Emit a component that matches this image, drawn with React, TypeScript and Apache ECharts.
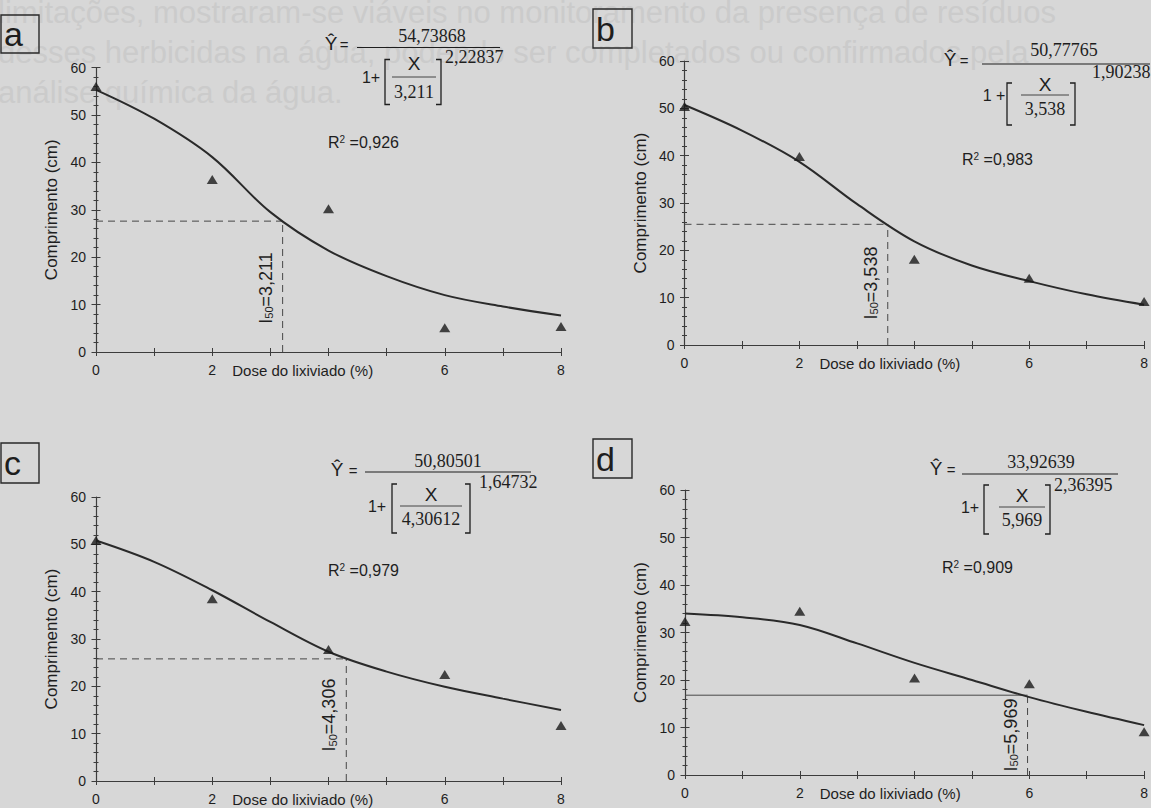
import React, { useEffect, useRef } from "react";
import * as echarts from "echarts";

// Leachate doses (%) at which root length was measured
const doses = [0, 2, 4, 6, 8];
// Doses along which each fitted log-logistic curve is traced
const fitDoses = [0, 1, 2, 3, 4, 5, 6, 7, 8];

// Observed lengths (cm)
const observedA = [56.0, 36.4, 30.2, 5.1, 5.4];
const observedB = [50.4, 39.8, 18.1, 14.1, 9.2];
const observedC = [50.8, 38.5, 27.8, 22.5, 11.7];
const observedD = [32.3, 34.5, 20.4, 19.2, 9.1];

// Fitted curves (cm)
const fittedA = [55.3, 49.2, 41.1, 29.5, 21.4, 16.0, 12.0, 9.6, 7.7];
const fittedB = [50.7, 45.3, 38.7, 29.8, 21.9, 16.8, 13.5, 10.7, 8.5];
const fittedC = [50.8, 46.3, 40.3, 33.6, 27.3, 23.1, 19.9, 17.4, 15.0];
const fittedD = [34.0, 33.2, 31.6, 27.7, 23.6, 20.0, 16.4, 13.3, 10.5];

// I50 doses and the matching length level of the guide lines
const i50Values = [3.211, 3.538, 4.306, 5.969];
const i50Labels = ["3,211", "3,538", "4,306", "5,969"];
const guideLevels = [27.6, 25.5, 25.8, 16.8];

// Equation and fit-quality texts
const panelLetters = ["a", "b", "c", "d"];
const eqNumerators = ["54,73868", "50,77765", "50,80501", "33,92639"];
const eqScales = ["3,211", "3,538", "4,30612", "5,969"];
const eqExponents = ["2,22837", "1,90238", "1,64732", "2,36395"];
const r2Labels = ["0,926", "0,983", "0,979", "0,909"];

// Axis ticks
const xLabelled = [0, 2, 6, 8];
const yMin = 0;
const yMax = 60;
const yStep = 10;
const xMin = 0;
const xMax = 8;
const xStep = 1;

const observedSets = [observedA, observedB, observedC, observedD];
const fittedSets = [fittedA, fittedB, fittedC, fittedD];

const ghostLines = [
  "limitações, mostraram-se viáveis no monitoramento da presença de resíduos",
  "desses herbicidas na água, podendo ser completados ou confirmados pela",
  "análise química da água.",
];

// ---- layout & style ----
const SANS = "Liberation Sans, Arial, sans-serif";
const SERIF = "Liberation Serif, Times New Roman, serif";
const INK = "#1e1e1e";
const AXIS = "#3c3c3c";
const PAPER = "#d7d7d7";

const gridBoxes = [
  { left: 96, top: 67.5, width: 465, height: 284.5 },
  { left: 684.5, top: 61, width: 465, height: 284 },
  { left: 96, top: 497, width: 465, height: 284 },
  { left: 685, top: 490, width: 465, height: 285 },
];

const letterBoxes = [
  { x: 1, y: 15, w: 38, h: 38 },
  { x: 593, y: 9, w: 39, h: 39 },
  { x: 1, y: 443, w: 38, h: 40 },
  { x: 593, y: 439, w: 39, h: 39 },
];

const r2Positions = [
  [328, 142],
  [962, 159],
  [328, 570],
  [942, 567],
];

// pixels above the x axis for the centre of each rotated I50 label
const i50LabelRise = [64, 62, 66, 40];

const equationLayouts = [
  { lx: 357, ly: 47.5, w: 143, hatDx: -26, hatDy: -4, eqDx: -13, numDx: 75, numDy: -12, oneDx: 14, bl: 28, br: 84, brTop: 12, brBot: 57, xDx: 57, xDy: 16, innerHalf: 22, innerDy: 29.5, denDy: 44, expDx: 88, expDy: 9, onePlus: "1+" },
  { lx: 982, ly: 64, w: 168, hatDx: -32, hatDy: -5, eqDx: -18, numDx: 82, numDy: -14, oneDx: 12, bl: 25, br: 93, brTop: 19, brBot: 61, xDx: 63, xDy: 20, innerHalf: 24, innerDy: 31, denDy: 45, expDx: 110, expDy: 8, onePlus: "1 +" },
  { lx: 365, ly: 472, w: 166, hatDx: -28, hatDy: -3, eqDx: -12, numDx: 83, numDy: -11, oneDx: 12, bl: 27, br: 105, brTop: 12, brBot: 61, xDx: 66, xDy: 22, innerHalf: 31, innerDy: 34, denDy: 47, expDx: 114, expDy: 10, onePlus: "1+" },
  { lx: 962, ly: 474, w: 156, hatDx: -26, hatDy: -6, eqDx: -11, numDx: 79, numDy: -12, oneDx: 8, bl: 22, br: 88, brTop: 11, brBot: 60, xDx: 60, xDy: 21, innerHalf: 23, innerDy: 33, denDy: 46, expDx: 92, expDy: 11, onePlus: "1+" },
];

function txt(x: number, y: number, text: string, family: string, size: number, align: string, extra: any = {}) {
  return {
    type: "text",
    x,
    y,
    silent: true,
    ...extra,
    style: {
      text,
      fontFamily: family,
      fontSize: size,
      fill: INK,
      align,
      verticalAlign: "middle",
      textAlign: align,
      textVerticalAlign: "middle",
      ...(extra.style || {}),
    },
  };
}

function hline(x1: number, x2: number, y: number, w = 1) {
  return { type: "line", silent: true, shape: { x1, y1: y, x2, y2: y }, style: { stroke: INK, lineWidth: w } };
}

function bracket(x: number, top: number, bot: number, dir: number) {
  return {
    type: "polyline",
    silent: true,
    shape: { points: [[x + 5 * dir, top], [x, top], [x, bot], [x + 5 * dir, bot]] },
    style: { stroke: INK, lineWidth: 1.3, fill: null },
  };
}

function equationElements(k: number) {
  const L = equationLayouts[k];
  const { lx, ly } = L;
  return [
    txt(lx + L.hatDx, ly + L.hatDy, "Ŷ", SANS, 19, "center"),
    txt(lx + L.eqDx, ly + L.hatDy + 1, "=", SANS, 15, "center"),
    hline(lx, lx + L.w, ly, 1.1),
    txt(lx + L.numDx, ly + L.numDy, eqNumerators[k], SERIF, 18, "center"),
    txt(lx + L.oneDx, ly + L.innerDy, L.onePlus, SANS, 16, "center"),
    bracket(lx + L.bl, ly + L.brTop, ly + L.brBot, 1),
    txt(lx + L.xDx, ly + L.xDy, "X", SANS, 19, "center"),
    hline(lx + L.xDx - L.innerHalf, lx + L.xDx + L.innerHalf, ly + L.innerDy, 0.8),
    txt(lx + L.xDx, ly + L.denDy, eqScales[k], SERIF, 18, "center"),
    bracket(lx + L.br, ly + L.brTop, ly + L.brBot, -1),
    txt(lx + L.expDx, ly + L.expDy, eqExponents[k], SERIF, 18, "left"),
  ];
}

function buildOption() {
  const grid: any[] = [];
  const xAxis: any[] = [];
  const yAxis: any[] = [];
  const series: any[] = [];

  gridBoxes.forEach((box, i) => {
    grid.push({ ...box, containLabel: false });

    const xCommon = {
      type: "value",
      gridIndex: i,
      position: "bottom",
      min: xMin,
      max: xMax,
      interval: xStep,
      splitLine: { show: false },
    };
    xAxis.push({
      ...xCommon,
      axisLine: { show: true, onZero: false, lineStyle: { color: AXIS, width: 1.2 } },
      axisTick: { show: true, length: 4, lineStyle: { color: AXIS, width: 1 } },
      axisLabel: {
        margin: 11,
        fontSize: 14,
        fontFamily: SANS,
        color: INK,
        formatter: (v: number) => (xLabelled.includes(v) ? String(v) : ""),
      },
    });
    xAxis.push({
      ...xCommon,
      axisLine: { show: false, onZero: false },
      axisTick: { show: true, inside: true, length: 4, lineStyle: { color: AXIS, width: 1 } },
      axisLabel: { show: false },
    });

    const yCommon = {
      type: "value",
      gridIndex: i,
      position: "left",
      min: yMin,
      max: yMax,
      interval: yStep,
      splitLine: { show: false },
      minorSplitLine: { show: false },
    };
    yAxis.push({
      ...yCommon,
      name: "Comprimento (cm)",
      nameLocation: "middle",
      nameGap: 36,
      nameTextStyle: { fontSize: 17, fontFamily: SANS, color: INK },
      axisLine: { show: true, onZero: false, lineStyle: { color: AXIS, width: 1.2 } },
      axisTick: { show: true, length: 4.5, lineStyle: { color: AXIS, width: 1 } },
      minorTick: { show: true, splitNumber: 5, length: 2.5, lineStyle: { color: AXIS, width: 1 } },
      axisLabel: { margin: 10, fontSize: 14, fontFamily: SANS, color: INK },
    });
    yAxis.push({
      ...yCommon,
      axisLine: { show: false, onZero: false },
      axisTick: { show: true, inside: true, length: 4.5, lineStyle: { color: AXIS, width: 1 } },
      minorTick: { show: true, splitNumber: 5, length: 2.5, lineStyle: { color: AXIS, width: 1 } },
      axisLabel: { show: false },
    });

    const ax = { xAxisIndex: 2 * i, yAxisIndex: 2 * i };
    const level = guideLevels[i];
    const i50 = i50Values[i];
    series.push({
      ...ax,
      type: "scatter",
      data: doses.map((d, k) => [d, observedSets[i][k]]),
      symbol: "triangle",
      symbolSize: [11, 9],
      itemStyle: { color: "#1a1a1a" },
      z: 6,
    });
    series.push({
      ...ax,
      type: "line",
      data: fitDoses.map((d, k) => [d, fittedSets[i][k]]),
      smooth: 0.35,
      symbol: "none",
      lineStyle: { color: "#2a2a2a", width: 2 },
      z: 5,
    });
    series.push({
      ...ax,
      type: "line",
      data: [[xMin, level], [i50, level]],
      symbol: "none",
      lineStyle: { color: "#474747", width: 1, type: i === 3 ? "solid" : [7, 5] },
      z: 3,
    });
    series.push({
      ...ax,
      type: "line",
      data: [[i50, yMin], [i50, level]],
      symbol: "none",
      lineStyle: { color: "#474747", width: 1, type: [7, 5] },
      z: 3,
    });
  });

  return {
    animation: false,
    backgroundColor: PAPER,
    grid,
    xAxis,
    yAxis,
    series,
  };
}

function buildGraphics(chart: any) {
  const els: any[] = [];

  // faint text showing through from the other side of the page
  ghostLines.forEach((line, k) => {
    els.push(
      txt(-2, 12 + k * 40, line, SANS, 31, "left", {
        z: -10,
        style: { fill: "#cbcbcb" },
      })
    );
  });

  gridBoxes.forEach((_, i) => {
    const toPx = (p: number[]) => chart.convertToPixel({ seriesIndex: 4 * i }, p);

    // panel letter in its box
    const b = letterBoxes[i];
    els.push({
      type: "rect",
      silent: true,
      shape: { x: b.x, y: b.y, width: b.w, height: b.h },
      style: { fill: null, stroke: "#2a2a2a", lineWidth: 1.4 },
    });
    els.push(txt(b.x + 3, b.y + b.h / 2, panelLetters[i], SANS, 34, "left"));

    // x axis title between the tick labels
    const p2 = toPx([2, 0]);
    els.push(txt(p2[0] + 20, p2[1] + 18, "Dose do lixiviado (%)", SANS, 15, "left"));

    // I50 label beside the vertical guide
    const pi = toPx([i50Values[i], 0]);
    els.push({
      type: "text",
      silent: true,
      x: pi[0] - 17,
      y: pi[1] - i50LabelRise[i],
      rotation: Math.PI / 2,
      style: {
        text: "I{s|50}=" + i50Labels[i],
        fontFamily: SANS,
        fontSize: 18,
        fill: INK,
        align: "center",
        verticalAlign: "middle",
        textAlign: "center",
        textVerticalAlign: "middle",
        rich: {
          s: { fontSize: 11, fontFamily: SANS, fill: INK, verticalAlign: "bottom", lineHeight: 11 },
        },
      },
    });

    // coefficient of determination
    const r = r2Positions[i];
    els.push({
      type: "text",
      silent: true,
      x: r[0],
      y: r[1],
      style: {
        text: "R{p|2} =" + r2Labels[i],
        fontFamily: SANS,
        fontSize: 16,
        fill: INK,
        align: "left",
        verticalAlign: "middle",
        textAlign: "left",
        textVerticalAlign: "middle",
        rich: {
          p: { fontSize: 10, fontFamily: SANS, fill: INK, verticalAlign: "top", lineHeight: 10 },
        },
      },
    });

    equationElements(i).forEach((e) => els.push(e));
  });

  return els;
}

export default function App() {
  const ref = useRef<HTMLDivElement>(null);
  useEffect(() => {
    document.body.style.margin = "0";
    document.body.style.background = PAPER;
    const chart = echarts.init(ref.current as HTMLDivElement, null, { renderer: "svg" });
    chart.setOption(buildOption() as any);
    chart.setOption({ graphic: buildGraphics(chart) } as any);
    return () => chart.dispose();
  }, []);
  return (
    <div
      ref={ref}
      style={{ position: "absolute", left: 0, top: 0, width: 1151, height: 808 }}
    />
  );
}
